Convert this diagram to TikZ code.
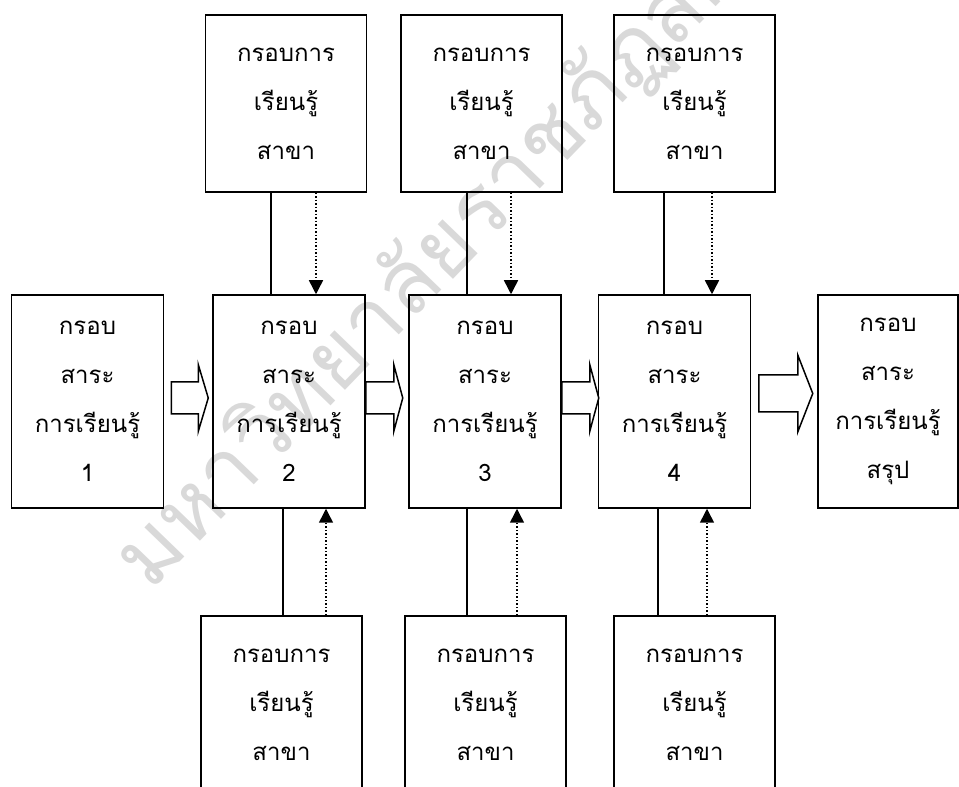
\documentclass[tikz,border=0pt]{standalone}
\usepackage{fontspec}
\newfontfamily\thaifont[Script=Thai]{Loma}
\usetikzlibrary{arrows.meta, positioning, calc}

\begin{document}
\begin{tikzpicture}[x=1pt, y=1pt,
    frame/.style={rectangle, draw, line width=1.5pt, align=center, inner sep=0pt,
        font=\thaifont\fontsize{24}{49}\selectfont},
    mainbox/.style={frame, minimum width=152pt, minimum height=213pt},
    subbox/.style={frame, minimum width=161pt, minimum height=177pt},
    link/.style={line width=1.5pt},
    feed/.style={-{Triangle[width=14pt,length=14pt]}, line width=1.5pt, dotted},
    hollow/.style={draw, line width=1.5pt, line join=miter},
    watermark/.style={text=gray!30, font=\thaifont\fontsize{88}{88}\selectfont, inner sep=0pt}]

    \useasboundingbox (0,0) rectangle (959,787);
    \clip (0,0) rectangle (959,787);

    % Watermark
    \node[watermark, rotate=46, anchor=base west] (wm) at (150,194) {มหาวิทยาลัยราชภัฏสกลนคร};

    % Main frames
    \node[mainbox] (k1) at (87.5,385.5) {กรอบ\\สาระ\\การเรียนรู้\\1};
    \node[mainbox] (k2) at (289,385.5) {กรอบ\\สาระ\\การเรียนรู้\\2};
    \node[mainbox] (k3) at (485,385.5) {กรอบ\\สาระ\\การเรียนรู้\\3};
    \node[mainbox] (k4) at (674.5,385.5) {กรอบ\\สาระ\\การเรียนรู้\\4};
    \node[mainbox, minimum width=140pt] (k5) at (888,385.5) {กรอบ\\สาระ\\การเรียนรู้\\สรุป};

    % Subject frames above
    \node[subbox] (t2) at (286,683.5) {กรอบการ\\เรียนรู้\\สาขา};
    \node[subbox] (t3) at (481.5,683.5) {กรอบการ\\เรียนรู้\\สาขา};
    \node[subbox] (t4) at (694.5,683.5) {กรอบการ\\เรียนรู้\\สาขา};

    % Subject frames below
    \node[subbox] (b2) at (281.5,82.5) {กรอบการ\\เรียนรู้\\สาขา};
    \node[subbox] (b3) at (485.5,82.5) {กรอบการ\\เรียนรู้\\สาขา};
    \node[subbox] (b4) at (694.5,82.5) {กรอบการ\\เรียนรู้\\สาขา};

    % Link ends
    \coordinate (t2l) at ($(t2.south)+(-15,0)$);
    \coordinate (t2f) at ($(t2.south)+(30,0)$);
    \coordinate (t3l) at ($(t3.south)+(-14.5,0)$);
    \coordinate (t3f) at ($(t3.south)+(29.5,0)$);
    \coordinate (t4l) at ($(t4.south)+(-30.5,0)$);
    \coordinate (t4f) at ($(t4.south)+(17.5,0)$);
    \coordinate (b2l) at ($(b2.north)+(1.5,0)$);
    \coordinate (b2f) at ($(b2.north)+(44.5,0)$);
    \coordinate (b3l) at ($(b3.north)+(-18.5,0)$);
    \coordinate (b3f) at ($(b3.north)+(31.5,0)$);
    \coordinate (b4l) at ($(b4.north)+(-36.5,0)$);
    \coordinate (b4f) at ($(b4.north)+(12.5,0)$);

    % Links from above
    \draw[link] (t2l) -- (t2l |- k2.north);
    \draw[feed] (t2f) -- (t2f |- k2.north);
    \draw[link] (t3l) -- (t3l |- k3.north);
    \draw[feed] (t3f) -- (t3f |- k3.north);
    \draw[link] (t4l) -- (t4l |- k4.north);
    \draw[feed] (t4f) -- (t4f |- k4.north);

    % Links from below
    \draw[link] (b2l) -- (b2l |- k2.south);
    \draw[feed] (b2f) -- (b2f |- k2.south);
    \draw[link] (b3l) -- (b3l |- k3.south);
    \draw[feed] (b3f) -- (b3f |- k3.south);
    \draw[link] (b4l) -- (b4l |- k4.south);
    \draw[feed] (b4f) -- (b4f |- k4.south);

    % Block arrows between frames
    \draw[hollow] ($(k1.east)+(7,19.5)$) -- ++(27,0) -- ++(0,17.5) -- ++(10,-33.5)
        -- ++(-10,-33.5) -- ++(0,17.5) -- ++(-27,0) -- cycle;
    \draw[hollow] ($(k2.east)+(0,19.5)$) -- ++(28,0) -- ++(0,17.5) -- ++(9,-33.5)
        -- ++(-9,-33.5) -- ++(0,17.5) -- ++(-28,0) -- cycle;
    \draw[hollow] ($(k3.east)+(0,19.5)$) -- ++(28,0) -- ++(0,17.5) -- ++(9,-33.5)
        -- ++(-9,-33.5) -- ++(0,17.5) -- ++(-28,0) -- cycle;
    \draw[hollow] ($(k4.east)+(7.5,26.5)$) -- ++(39,0) -- ++(0,20) -- ++(15,-38.5)
        -- ++(-15,-38.5) -- ++(0,20) -- ++(-39,0) -- cycle;

\end{tikzpicture}
\end{document}
